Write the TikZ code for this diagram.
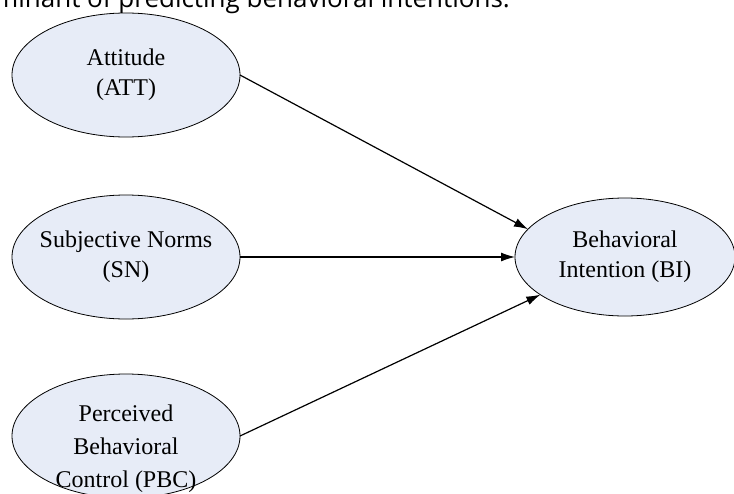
\documentclass[tikz,border=0pt]{standalone}
\usepackage{fontspec}
\setmainfont{Liberation Serif}
\newfontfamily\capfont{Open Sans}
\usetikzlibrary{shapes.geometric,arrows.meta}
\definecolor{ellfill}{RGB}{231,236,247}
\tikzset{
  construct/.style={ellipse, draw=black, line width=0.8pt, fill=ellfill,
    minimum width=228pt, minimum height=124pt, inner sep=0pt, outer sep=0pt},
  lbl/.style={align=center, font=\fontsize{24}{30}\selectfont, inner sep=0pt},
  path/.style={draw=black, line width=1.2pt, -{Latex[length=14pt,width=9pt]}}
}
\begin{document}
\begin{tikzpicture}[x=1pt,y=-1pt]
\useasboundingbox (0,0) rectangle (734,493);
\clip (0,0) rectangle (734,493);
\node[anchor=base east, inner sep=0pt, font=\capfont\fontsize{26}{30}\selectfont] (cap) at (510,7) {determinant of predicting behavioral intentions.};
\node[construct, label={[lbl]center:Attitude\\(ATT)}] (ATT) at (126,75) {};
\node[construct, label={[lbl]center:Subjective Norms\\(SN)}] (SN) at (126,257) {};
\node[construct] (PBC) at (126,436) {};
\node[lbl, font=\fontsize{24}{33}\selectfont] (PBCt) at (126,449) {Perceived\\Behavioral\\Control (PBC)};
\node[construct, minimum width=220pt, minimum height=118pt, label={[lbl]center:Behavioral\\Intention (BI)}] (BI) at (625,257) {};
\draw[path] (ATT.east) -- (BI.164);
\draw[path] (SN.east) -- (BI.west);
\draw[path] (PBC.east) -- (BI.204);
\end{tikzpicture}
\end{document}
